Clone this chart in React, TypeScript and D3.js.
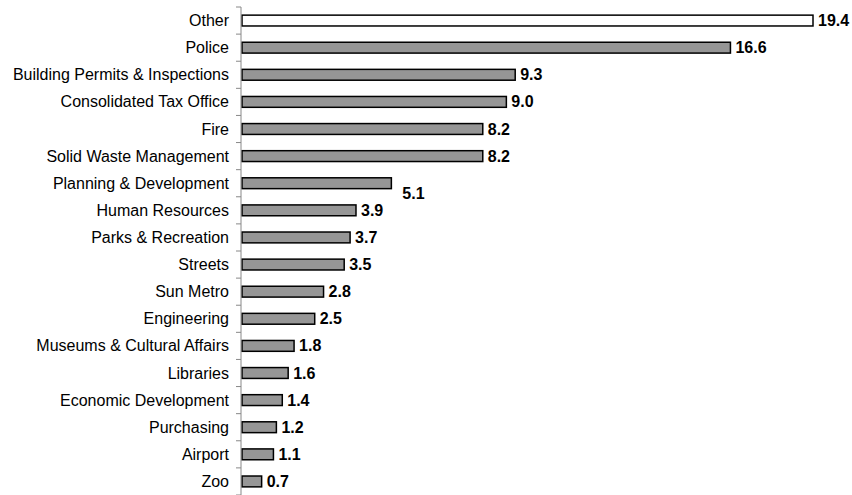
import React from "react";
import * as d3 from "d3";

const categories = [
  "Other",
  "Police",
  "Building Permits & Inspections",
  "Consolidated Tax Office",
  "Fire",
  "Solid Waste Management",
  "Planning & Development",
  "Human Resources",
  "Parks & Recreation",
  "Streets",
  "Sun Metro",
  "Engineering",
  "Museums & Cultural Affairs",
  "Libraries",
  "Economic Development",
  "Purchasing",
  "Airport",
  "Zoo",
];

const values = [19.4, 16.6, 9.3, 9.0, 8.2, 8.2, 5.1, 3.9, 3.7, 3.5, 2.8, 2.5, 1.8, 1.6, 1.4, 1.2, 1.1, 0.7];

const W = 852;
const H = 495;
const axisX = 241;
const top = 7;
const bottom = 495;

export default function App() {
  const x = d3.scaleLinear().domain([0, 19.4]).range([axisX, 813]);
  const y = d3.scaleBand<string>().domain(categories).range([top, bottom]).paddingInner(0.6).paddingOuter(0.3);
  const band = d3.scaleBand<string>().domain(categories).range([top, bottom]);
  const font = "'Liberation Sans', Arial, sans-serif";
  const ticks = d3.range(categories.length + 1).map((i) => top + i * band.step());
  return (
    <svg width={W} height={H} style={{ position: "absolute", left: 0, top: 0 }}>
      <rect width={W} height={H} fill="#fff" />
      {categories.map((c, i) => (
        <g key={c}>
          <rect
            x={x(0) + 1}
            y={y(c)!}
            width={x(values[i]) - x(0) - 1}
            height={y.bandwidth()}
            fill={i === 0 ? "#ffffff" : "#969696"}
            stroke="#000"
            strokeWidth={1.5}
          />
          <text
            x={axisX - 12}
            y={band(c)! + band.bandwidth() / 2}
            textAnchor="end"
            dominantBaseline="central"
            fontFamily={font}
            fontSize={16}
            fill="#000"
          >
            {c}
          </text>
          <text
            x={x(values[i]) + (c === "Planning & Development" ? 11 : 5)}
            y={band(c)! + band.bandwidth() / 2 + (c === "Planning & Development" ? 10 : 0)}
            dominantBaseline="central"
            fontFamily={font}
            fontSize={16}
            fontWeight="bold"
            fill="#000"
          >
            {values[i].toFixed(1)}
          </text>
        </g>
      ))}
      <line x1={axisX} x2={axisX} y1={top} y2={bottom} stroke="#888" strokeWidth={1} />
      {ticks.map((t, i) => (
        <line key={i} x1={axisX - 5} x2={axisX} y1={t} y2={t} stroke="#888" strokeWidth={1} />
      ))}
    </svg>
  );
}
